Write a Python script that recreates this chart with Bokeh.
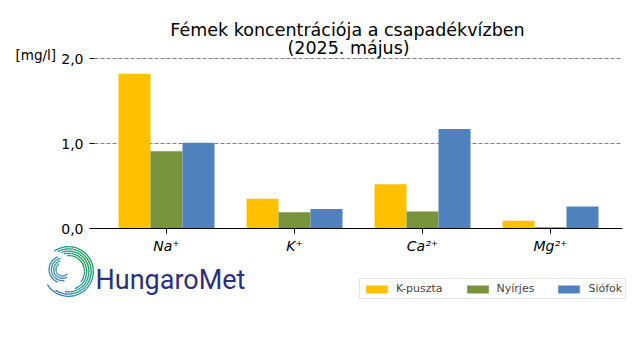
import math
from bokeh.plotting import figure
from bokeh.models import (Range1d, FixedTicker, Legend, LegendItem, ColumnDataSource)
from bokeh.core.properties import value
from bokeh.embed import file_html
from bokeh.resources import INLINE

# ---- data ----
categories = ["Na⁺", "K⁺", "Ca²⁺", "Mg²⁺"]
stations = ["K-puszta", "Nyírjes", "Siófok"]
kpuszta = [1.82, 0.35, 0.52, 0.09]
nyirjes = [0.91, 0.19, 0.20, 0.015]
siofok = [1.01, 0.23, 1.17, 0.26]
bar_colors = ["#FFC000", "#77933C", "#4F81BD"]
y_ticks = [0, 1, 2]
y_tick_labels = ["0,0", "1,0", "2,0"]
title_lines = ["Fémek koncentrációja a csapadékvízben", "(2025. május)"]
unit_label = "[mg/l]"
logo_text = "HungaroMet"

# ---- geometry (pixels) ----
W, H = 640, 360
FL, FR, FB = 94, 622, 228          # plot area left/right, baseline (y=0)
X0, X1 = -0.5625, 3.5625           # data x at FL / FR
XPX = (FR - FL) / (X1 - X0)        # px per x unit
YPX = 85.0                         # px per y unit


def px2x(px):
    return X0 + (px - FL) / XPX


def py2y(py):
    return (FB - py) / YPX


p = figure(width=W, height=H, output_backend="svg", toolbar_location=None,
           x_range=Range1d(px2x(0), px2x(W)), y_range=Range1d(py2y(H), py2y(0)),
           min_border=0)
p.title.visible = False
p.outline_line_color = None
p.background_fill_color = "white"
p.border_fill_color = "white"
p.xgrid.visible = False
p.ygrid.visible = False

# dashed horizontal grid lines across the plot area (at the y ticks)
p.segment(x0=[X0] * len(y_ticks), x1=[X1] * len(y_ticks), y0=y_ticks, y1=y_ticks,
          line_color="#808080", line_dash="4 2", line_width=1)

series = [kpuszta, nyirjes, siofok]
renderers = []
for j, (name, vals, col) in enumerate(zip(stations, series, bar_colors)):
    src = ColumnDataSource(dict(x=[i + (j - 1) * 0.25 for i in range(len(categories))],
                                top=vals))
    renderers.append(p.vbar(x="x", top="top", bottom=0, width=0.25, source=src,
                            fill_color=col, line_color=None))

# bottom spine across the plot area
p.segment(x0=[X0], x1=[X1], y0=[0], y1=[0], line_color="black", line_width=1.1)

# x axis fixed at y = 0
xa = p.xaxis[0]
xa.fixed_location = 0
xa.ticker = FixedTicker(ticks=list(range(len(categories))))
xa.major_label_overrides = {i: c for i, c in enumerate(categories)}
xa.major_label_text_font = "DejaVu Sans"
xa.major_label_text_font_style = "italic"
xa.major_label_text_font_size = "14px"
xa.major_label_text_color = "black"
xa.axis_line_color = None
xa.major_tick_line_color = "black"
xa.major_tick_out = 5
xa.major_tick_in = 0
xa.minor_tick_line_color = None
xa.major_label_standoff = 4

# y axis fixed at the left edge of the plot area
ya = p.yaxis[0]
ya.fixed_location = X0
ya.ticker = FixedTicker(ticks=y_ticks)
ya.major_label_overrides = {t: l for t, l in zip(y_ticks, y_tick_labels)}
ya.major_label_text_font = "DejaVu Sans"
ya.major_label_text_font_size = "14px"
ya.major_label_text_color = "black"
ya.axis_line_color = None
ya.major_tick_line_color = "black"
ya.major_tick_out = 5
ya.major_tick_in = 0
ya.minor_tick_line_color = None
ya.major_label_standoff = 6

# titles
p.text(x=[px2x(347), px2x(348)], y=[py2y(29.5), py2y(47)], text=title_lines,
       text_align="center", text_baseline="alphabetic", text_font=value("DejaVu Sans"),
       text_font_size="17.5px", text_color="black")
p.text(x=[px2x(15)], y=[py2y(54)], text=[unit_label], text_align="left",
       text_baseline="alphabetic", text_font=value("DejaVu Sans"),
       text_font_size="13.5px", text_color="black")

# legend
legend = Legend(items=[LegendItem(label=s, renderers=[r]) for s, r in zip(stations, renderers)],
                orientation="horizontal", location=(359, H - 299),
                glyph_width=27, glyph_height=10, label_standoff=6, spacing=21,
                padding=3, margin=0, label_height=9,
                label_text_font="DejaVu Sans", label_text_font_size="11px",
                border_line_color="#cccccc", border_line_width=1,
                background_fill_color="white", background_fill_alpha=0.8)
p.add_layout(legend, "center")

# logo text
p.text(x=[px2x(95)], y=[py2y(279)], text=[logo_text], text_align="left",
       text_baseline="alphabetic", text_font=value("Roboto"),
       text_font_size="27px", text_color="#2b2f7e")

# logo spiral
GREEN = (19, 154, 79)
TEAL = (28, 143, 156)
BLUE = (42, 109, 181)


def mix(t):
    t = max(0.0, min(1.0, t))
    if t < 0.5:
        a, b, u = GREEN, TEAL, t / 0.5
    else:
        a, b, u = TEAL, BLUE, (t - 0.5) / 0.5
    c = [int(round(a[k] + (b[k] - a[k]) * u)) for k in range(3)]
    return "#%02x%02x%02x" % tuple(c)


def outer_t(th):
    if th >= 20:
        return max(0.0, (th - 50) / 75.0) * 0.55
    return min(1.0, (20 - th) / 150.0)


def inner_t(th):
    return 0.45 + 0.5 * (th - 100) / 200.0


seg_xs, seg_ys, seg_cols = [], [], []


def arc(cx, cy, r, a0, a1, tfn, step=8.0):
    n = max(1, int(abs(a1 - a0) / step + 0.5))
    for k in range(n):
        ta = a0 + (a1 - a0) * k / n
        tb = a0 + (a1 - a0) * (k + 1) / n
        angs = [ta + (tb - ta) * m / 3 for m in range(4)]
        seg_xs.append([px2x(cx + r * math.cos(math.radians(a))) for a in angs])
        seg_ys.append([py2y(cy - r * math.sin(math.radians(a))) for a in angs])
        seg_cols.append(mix(tfn((ta + tb) / 2)))


for r, a0, a1 in [(16.0, 95, -40), (18.2, 105, -70), (20.4, 112, -100),
                  (22.6, 118, -125), (24.8, 125, -148)]:
    arc(68, 271, r, a0, a1, outer_t)
for r, a0, a1 in [(6.5, 120, 320), (8.8, 105, 300), (11.1, 100, 280), (13.4, 110, 250)]:
    arc(62, 269, r, a0, a1, inner_t)

p.multi_line(xs=seg_xs, ys=seg_ys, line_color=seg_cols, line_width=1.3, line_cap="butt")

open("out.html", "w").write(file_html(p, INLINE))
